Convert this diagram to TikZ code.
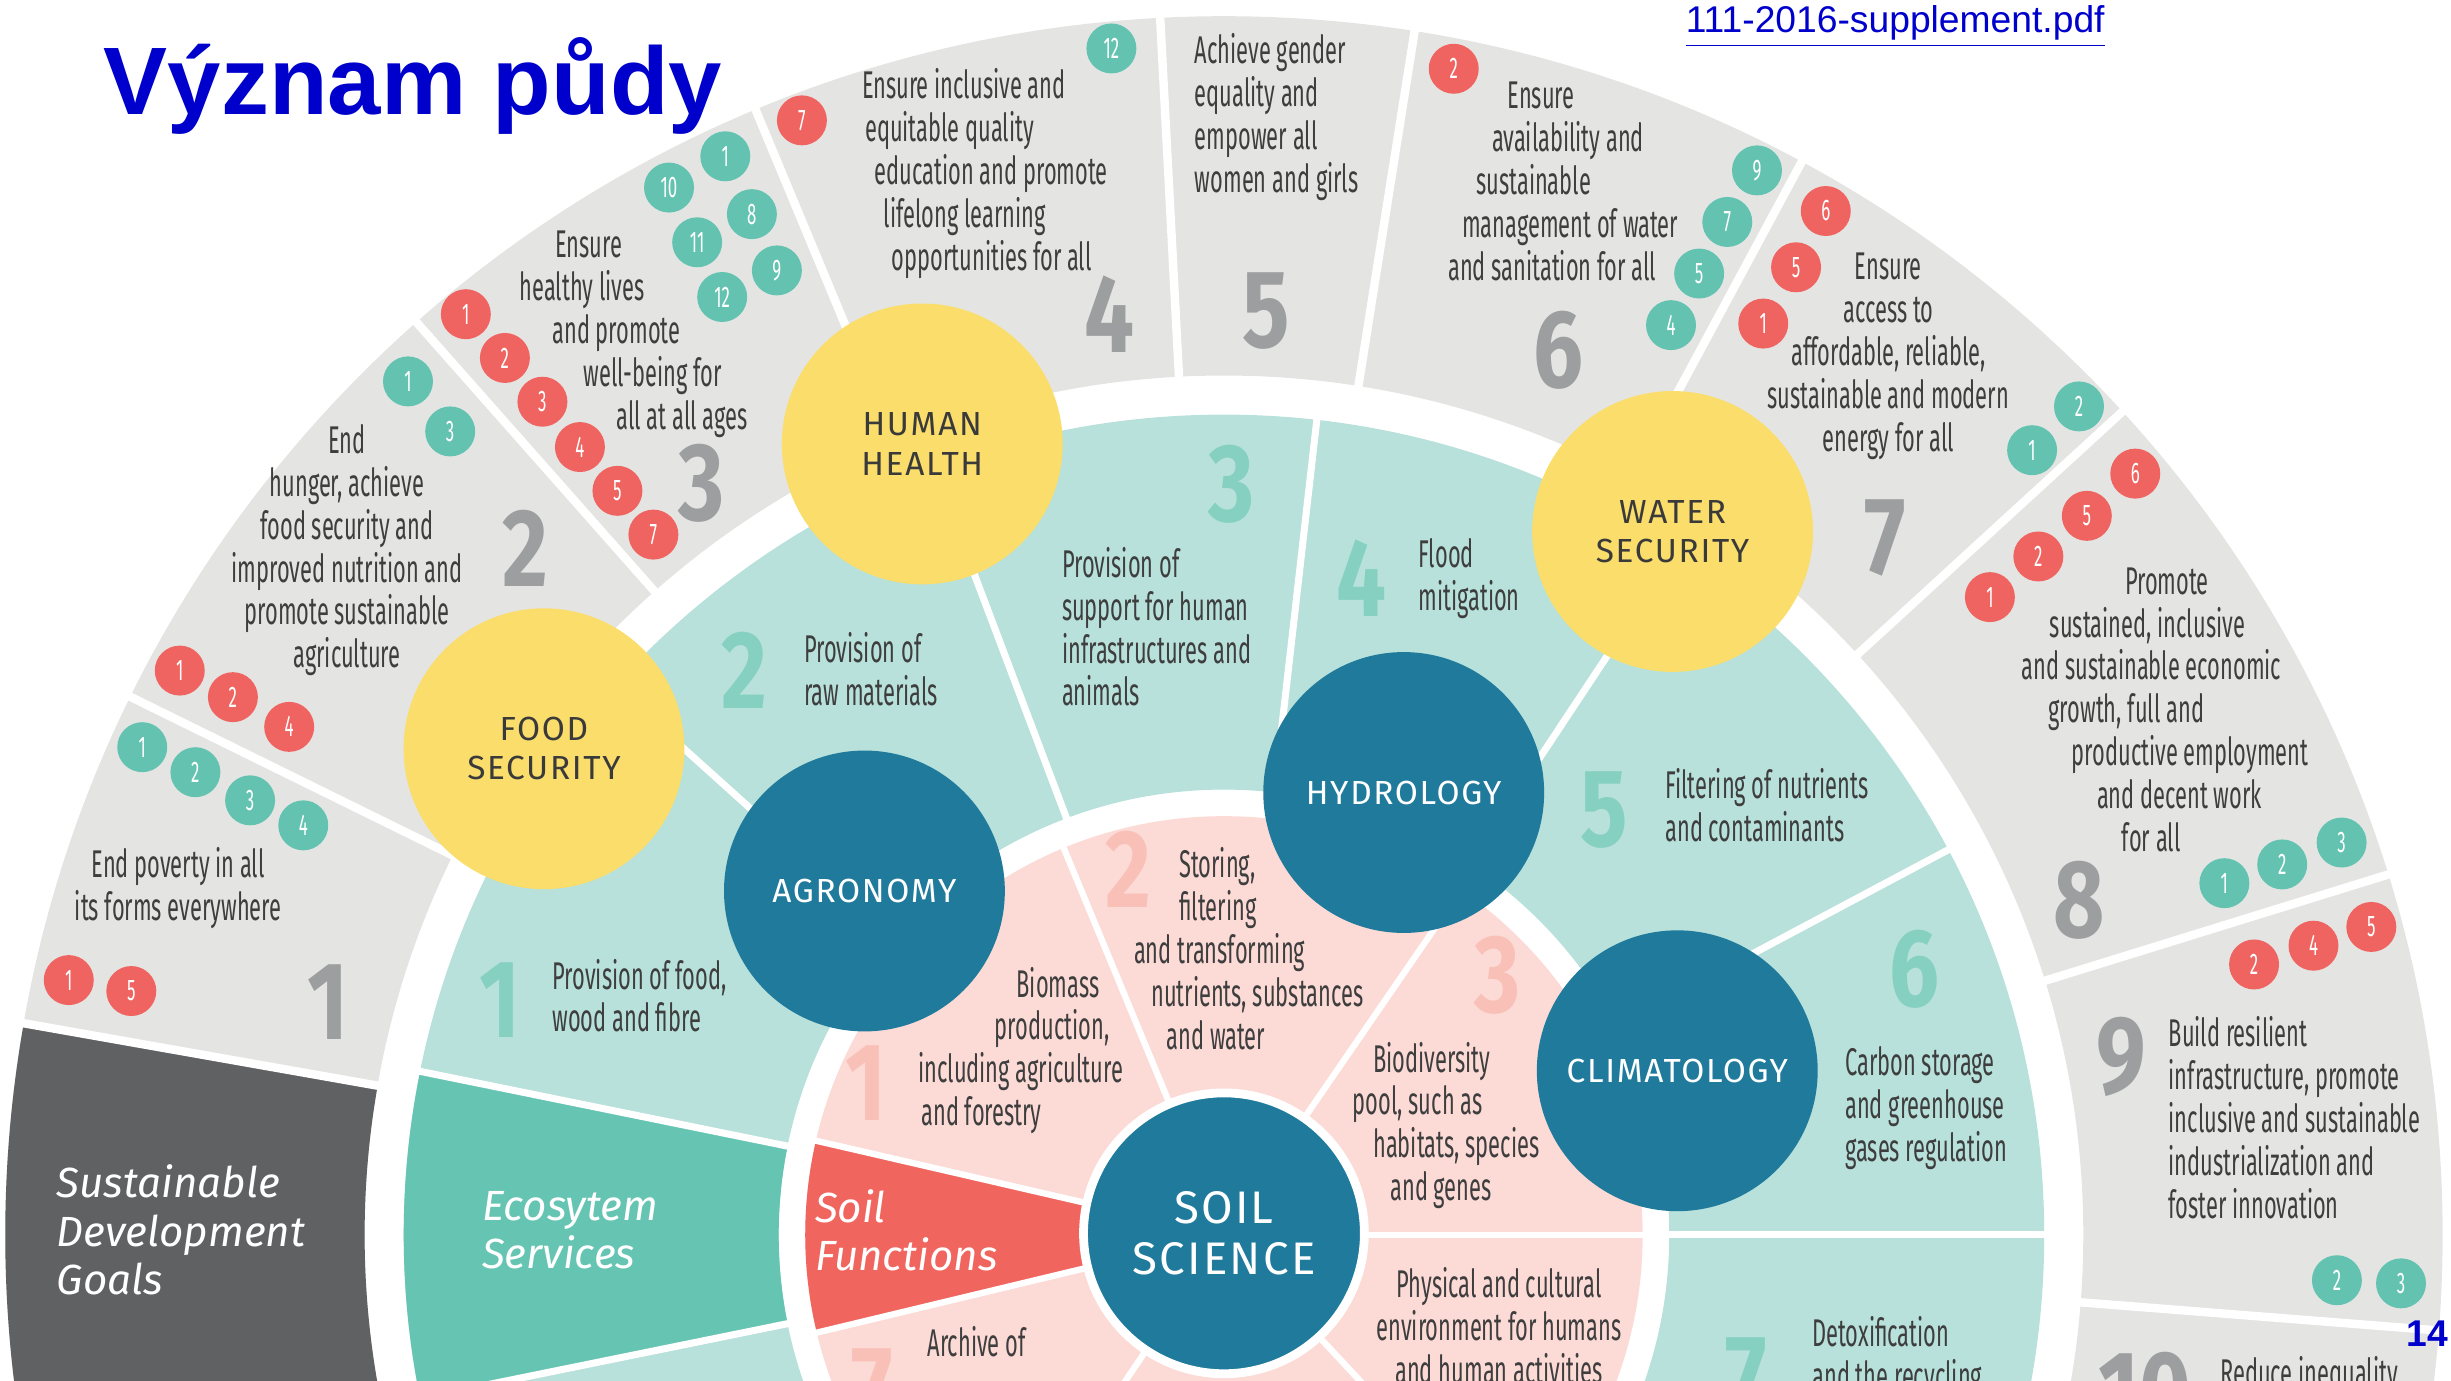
\documentclass[tikz,border=0pt]{standalone}
\usepackage{fontspec}
\setmainfont{Fira Sans}
\newfontfamily\condf[FakeStretch=0.565]{Fira Sans}
\newfontfamily\numf[FakeStretch=0.8]{Fira Sans}
\newfontfamily\circf[LetterSpace=5]{Fira Sans}
\newfontfamily\arialf{Liberation Sans}
\definecolor{sdggrey}{HTML}{E4E5E3}
\definecolor{sdgdark}{HTML}{606163}
\definecolor{ecolight}{HTML}{B7E1DA}
\definecolor{ecodark}{HTML}{66C4B3}
\definecolor{funlight}{HTML}{FCDAD6}
\definecolor{funred}{HTML}{F1655F}
\definecolor{yel}{HTML}{FADD6B}
\definecolor{sciblue}{HTML}{1F7A9C}
\definecolor{txtgrey}{HTML}{3E3E3E}
\definecolor{txtdark}{HTML}{3A3A3A}
\definecolor{numgrey}{HTML}{9D9E9F}
\definecolor{numteal}{HTML}{86D0C1}
\definecolor{numpink}{HTML}{F9C0B8}
\definecolor{bubred}{HTML}{EF6461}
\definecolor{bubteal}{HTML}{63C3B0}
\definecolor{titleblue}{HTML}{0000CC}
\tikzset{
  goaltxt/.style={inner sep=0pt, text=txtgrey, font=\condf\fontsize{11}{12.2}\selectfont},
  goalleft/.style={goaltxt, align=left, anchor=west},
  goalmid/.style={goaltxt, align=center},
  bignum/.style={inner sep=0pt, font=\numf\bfseries\fontsize{31.5}{31.5}\selectfont},
  redbub/.style={circle, fill=bubred, text=white, inner sep=0pt, minimum size=0.5cm, font=\condf\fontsize{8.5}{8.5}\selectfont},
  tealbub/.style={redbub, fill=bubteal},
  yelcirc/.style={circle, fill=yel, text=txtdark, minimum size=2.81cm, inner sep=0pt, align=center, font=\circf\fontsize{9.5}{11.2}\selectfont},
  bluecirc/.style={yelcirc, fill=sciblue, text=white},
  ringlabel/.style={inner sep=0pt, text=white, align=left, anchor=west, font=\itshape\fontsize{12}{13.8}\selectfont},
  sepline/.style={white, line width=2.4pt}
}
\begin{document}
\begin{tikzpicture}[x=0.015633cm,y=-0.015633cm]
\useasboundingbox (0,0) rectangle (1568,883);
\clip (0,0) rectangle (1568,883);
\begin{scope}[shift={(783,790)},x=1.5633cm,y=1.5633cm]
\fill[sdggrey,even odd rule] (0,0) circle (7.8) (0,0) circle (5.5);
\fill[sdgdark] (170:7.8) arc (170:200:7.8) -- (200:5.5) arc (200:170:5.5) -- cycle;
\fill[ecolight,even odd rule] (0,0) circle (5.25) (0,0) circle (2.85);
\fill[ecodark] (168.5:5.25) arc (168.5:191.5:5.25) -- (191.5:2.85) arc (191.5:168.5:2.85) -- cycle;
\fill[funlight] (0,0) circle (2.68);
\fill[funred] (167:2.68) arc (167:193.5:2.68) -- (193.5:0.9) arc (193.5:167:0.9) -- cycle;
\foreach \a in {170,153.8,131.5,112.6,93,81,61.7,42.5,17.2,-4.5}
  \draw[sepline] (\a:5.4) -- (\a:7.9);
\foreach \a in {168.5,191.5,138,110.7,83.5,56.5,28,0}
  \draw[sepline,line width=2pt] (\a:2.8) -- (\a:5.3);
\foreach \a in {167,193.5,112.5,55.5,0,236,313}
  \draw[sepline,line width=1.8pt] (\a:0.9) -- (\a:2.7);
\end{scope}

\node[yelcirc] (food) at (348,479) {FOOD\\SECURITY};
\node[yelcirc] (health) at (590,284) {HUMAN\\HEALTH};
\node[yelcirc] (water) at (1070,340) {WATER\\SECURITY};
\node[bluecirc] (agro) at (553,570) {AGRONOMY};
\node[bluecirc] (hydro) at (898,507) {HYDROLOGY};
\node[bluecirc] (clima) at (1073,685) {CLIMATOLOGY};
\node[bluecirc, draw=white, line width=2.5pt, font=\circf\fontsize{13}{14.7}\selectfont] (soil) at (783,789) {SOIL\\SCIENCE};

\node[ringlabel] (sdg) at (36,787) {Sustainable\\Development\\Goals};
\node[ringlabel] (eco) at (308,787) {Ecosytem\\Services};
\node[ringlabel] (fun) at (521,787) {Soil\\Functions};

\node[goalmid] (g1) at (114,568) {End poverty in all\\its forms everywhere};
\node[goalmid] (g2) at (222,352) {End\\hunger, achieve\\food security and\\improved nutrition and\\promote sustainable\\agriculture};
\node[goalleft] (g3) at (332,214) {\hspace*{10.2pt}Ensure\\healthy lives\\\hspace*{9.3pt}and promote\\\hspace*{18.2pt}well-being for\\\hspace*{27.6pt}all at all ages};
\node[goalleft] (g4) at (551,111) {Ensure inclusive and\\\hspace*{0.9pt}equitable quality\\\hspace*{3.6pt}education and promote\\\hspace*{6.2pt}lifelong learning\\\hspace*{8.5pt}opportunities for all};
\node[goalleft] (g5) at (764,75) {Achieve gender\\equality and\\empower all\\women and girls};
\node[goalleft] (g6) at (926,116) {\hspace*{16.9pt}Ensure\\\hspace*{12.5pt}availability and\\\hspace*{8pt}sustainable\\\hspace*{4pt}management of water\\and sanitation for all};
\node[goalmid] (g7) at (1208,228) {Ensure\\access to\\affordable, reliable,\\sustainable and modern\\energy for all};
\node[goalleft] (g8) at (1293,454) {\hspace*{29.4pt}Promote\\\hspace*{8pt}sustained, inclusive\\and sustainable economic\\\hspace*{7.6pt}growth, full and\\\hspace*{14.2pt}productive employment\\\hspace*{21.4pt}and decent work\\\hspace*{28.5pt}for all};
\node[goalleft] (g9) at (1387,715) {Build resilient\\infrastructure, promote\\inclusive and sustainable\\industrialization and\\foster innovation};
\node[goalleft] (g10) at (1420,880) {Reduce inequality};

\node[goalleft] (e1) at (353,637) {Provision of food,\\wood and fibre};
\node[goalleft] (e2) at (514,428) {Provision of\\raw materials};
\node[goalleft] (e3) at (679,401) {Provision of\\support for human\\infrastructures and\\animals};
\node[goalleft] (e4) at (907,370) {Flood\\mitigation};
\node[goalleft] (e5) at (1065,515) {Filtering of nutrients\\and contaminants};
\node[goalleft] (e6) at (1180,709) {Carbon storage\\and greenhouse\\gases regulation};
\node[goalleft] (e7) at (1159,868) {Detoxification\\and the recycling};

\node[goalleft] (f1) at (587,672) {\hspace*{28pt}Biomass\\\hspace*{21.8pt}production,\\including agriculture\\\hspace*{0.9pt}and forestry};
\node[goalleft] (f2) at (725,607) {\hspace*{12.9pt}Storing,\\\hspace*{12.9pt}filtering\\and transforming\\\hspace*{4.9pt}nutrients, substances\\\hspace*{9.3pt}and water};
\node[goalleft] (f3) at (865,720) {\hspace*{5.8pt}Biodiversity\\pool, such as\\\hspace*{5.8pt}habitats, species\\\hspace*{10.7pt}and genes};
\node[goalmid] (f4) at (959,848) {Physical and cultural\\environment for humans\\and human activities};
\node[goalleft] (f7) at (593,858) {Archive of};

\foreach \x/\y/\n [count=\i] in {210/641/1, 336/351/2, 449/309/3, 710/201/4, 810/199/5, 997/224/6, 1206/344/7, 1330/576/8, 1357/676/9, 1372/890/10}
  \node[bignum, text=numgrey] (gn\i) at (\x,\y) {\n};
\foreach \x/\y/\n [count=\i] in {320/640/1, 476/429/2, 788/310/3, 871/370/4, 1026/518/5, 1225/620/6, 1117/880/7}
  \node[bignum, text=numteal] (en\i) at (\x,\y) {\n};
\foreach \x/\y/\n [count=\i] in {554/693/1, 722/556/2, 958/624/3, 558/887/7}
  \node[bignum, text=numpink] (fn\i) at (\x,\y) {\n};

\foreach \x/\y/\n [count=\i] in {44/627/1, 84/634/5, 115/429/1, 149/446/2, 185/465/4, 298/201/1, 323/229/2, 347/257/3, 371/286/4, 395/314/5, 418/342/7, 513/77/7, 930/44/2, 1168/135/6, 1149/171/5, 1128/207/1, 1273/382/1, 1304/356/2, 1335/330/5, 1366/303/6, 1442/617/2, 1480/605/4, 1517/593/5}
  \node[redbub] (rb\i) at (\x,\y) {\n};
\foreach \x/\y/\n [count=\i] in {91/478/1, 125/494/2, 160/512/3, 194/528/4, 261/244/1, 288/276/3, 464/100/1, 428/120/10, 481/137/8, 446/155/11, 497/173/9, 462/190/12, 711/31/12, 1124/109/9, 1105/142/7, 1087/175/5, 1069/208/4, 1330/260/2, 1300/288/1, 1423/565/1, 1460/553/2, 1498/539/3, 1495/819/2, 1536/821/3}
  \node[tealbub] (tb\i) at (\x,\y) {\n};

\node[anchor=base west, inner sep=0pt, text=titleblue, font=\arialf\bfseries\fontsize{27.3}{30}\selectfont] (title) at (66,73) {Význam půdy};
\node[anchor=base west, inner sep=0pt, text=blue!80!black, font=\arialf\fontsize{10.6}{12}\selectfont] (link) at (1078,21) {\underline{111-2016-supplement.pdf}};
\node[inner sep=0pt, text=titleblue, font=\arialf\bfseries\fontsize{10.6}{12}\selectfont] (page) at (1553,853) {14};
\end{tikzpicture}
\end{document}
